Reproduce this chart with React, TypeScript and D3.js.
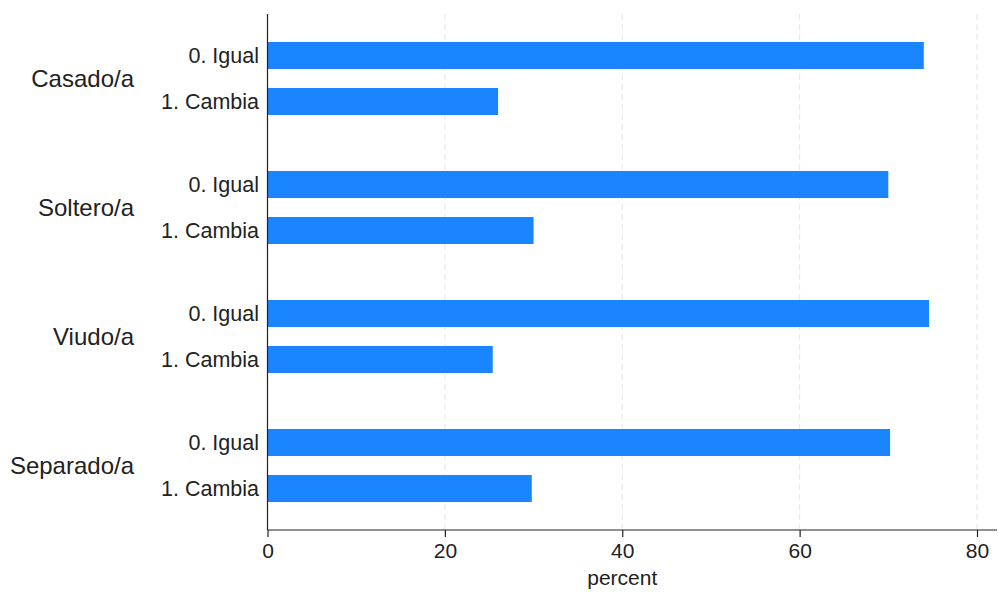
import React, { useRef, useEffect } from "react";
import * as d3 from "d3";

const groups = ["Casado/a", "Soltero/a", "Viudo/a", "Separado/a"];
const answers = ["0. Igual", "1. Cambia"];
const igual = [74.0, 70.0, 74.6, 70.2];
const cambia = [26.0, 30.0, 25.4, 29.8];
const xTicks = [0, 20, 40, 60, 80];

export default function App() {
  const svgRef = useRef<SVGSVGElement>(null);

  useEffect(() => {
    if (!svgRef.current) return;
    const svg = d3.select(svgRef.current);
    svg.selectAll("*").remove();

    const width = 999;
    const height = 592;
    const left = 267.5;
    const top = 14;
    const bottom = 530;
    const font = "Liberation Sans, Arial, sans-serif";

    const rows = groups.flatMap((g, i) => [
      { group: g, answer: answers[0], value: igual[i] },
      { group: g, answer: answers[1], value: cambia[i] },
    ]);

    const x = d3.scaleLinear().domain([0, 80]).range([left, 977]);
    const yGroup = d3.scaleBand().domain(groups).range([top, bottom]);
    const yInner = d3
      .scaleBand()
      .domain(answers)
      .range([0, yGroup.bandwidth()])
      .paddingInner(0.413)
      .paddingOuter(0.609);

    svg.append("rect").attr("width", width).attr("height", height).attr("fill", "#fff");

    // dashed grid
    svg
      .append("g")
      .selectAll("line")
      .data(xTicks.filter((t) => t > 0))
      .join("line")
      .attr("x1", (d) => x(d))
      .attr("x2", (d) => x(d))
      .attr("y1", top)
      .attr("y2", bottom)
      .attr("stroke", "#e6e6e6")
      .attr("stroke-width", 1)
      .attr("stroke-dasharray", "6,4");

    // bars
    svg
      .append("g")
      .selectAll("rect")
      .data(rows)
      .join("rect")
      .attr("x", x(0))
      .attr("y", (d) => (yGroup(d.group) ?? 0) + (yInner(d.answer) ?? 0))
      .attr("width", (d) => x(d.value) - x(0))
      .attr("height", yInner.bandwidth())
      .attr("fill", "#1a85ff");

    // sub labels
    svg
      .append("g")
      .selectAll("text")
      .data(rows)
      .join("text")
      .attr("x", 259)
      .attr("y", (d) => (yGroup(d.group) ?? 0) + (yInner(d.answer) ?? 0) + yInner.bandwidth() / 2)
      .attr("dy", "0.35em")
      .attr("text-anchor", "end")
      .attr("font-family", font)
      .attr("font-size", 21.5)
      .attr("fill", "#222")
      .text((d) => d.answer);

    // group labels
    svg
      .append("g")
      .selectAll("text")
      .data(groups)
      .join("text")
      .attr("x", 134)
      .attr("y", (d) => (yGroup(d) ?? 0) + yGroup.bandwidth() / 2)
      .attr("dy", "0.35em")
      .attr("text-anchor", "end")
      .attr("font-family", font)
      .attr("font-size", 24)
      .attr("fill", "#222")
      .text((d) => d);

    // y axis line
    svg
      .append("line")
      .attr("x1", left)
      .attr("x2", left)
      .attr("y1", top)
      .attr("y2", bottom)
      .attr("stroke", "#222")
      .attr("stroke-width", 1.2);

    // x axis
    const xAxis = d3.axisBottom(x).tickValues(xTicks).tickSize(7).tickSizeOuter(0);
    const gx = svg
      .append("g")
      .attr("transform", `translate(0,${bottom})`)
      .call(xAxis);
    gx.select(".domain").remove();
    gx.selectAll(".tick line").attr("stroke", "#222").attr("stroke-width", 1.2);
    gx.selectAll(".tick text")
      .attr("font-family", font)
      .attr("font-size", 21)
      .attr("fill", "#222")
      .attr("y", 28)
      .attr("dy", 0);
    gx.append("line")
      .attr("x1", left)
      .attr("x2", 997)
      .attr("stroke", "#222")
      .attr("stroke-width", 1.2);

    svg
      .append("text")
      .attr("x", (x(0) + x(80)) / 2)
      .attr("y", 585)
      .attr("text-anchor", "middle")
      .attr("font-family", font)
      .attr("font-size", 21)
      .attr("fill", "#222")
      .text("percent");
  }, []);

  return (
    <div style={{ position: "absolute", left: 0, top: 0 }}>
      <svg ref={svgRef} width={999} height={592} style={{ display: "block" }} />
    </div>
  );
}
